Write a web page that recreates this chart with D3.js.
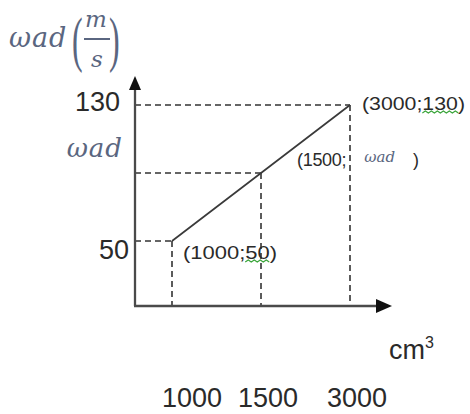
<!DOCTYPE html>
<html>
<head>
<meta charset="utf-8">
<script src="https://cdn.jsdelivr.net/npm/d3@7"></script>
<style>
  html, body { margin: 0; padding: 0; background: #fff; }
  svg { display: block; }
</style>
</head>
<body>
<svg id="chart" width="470" height="414"></svg>
<script>
// Volume (cm³) categories on the horizontal axis
const volumes = [1000, 1500, 3000];
// Angular speed values at each volume (middle one is the unknown ωad)
const speeds = [50, 90, 130];
// Labels written next to the vertical axis, one per speed value
const speedTickLabels = ["50", "ωad", "130"];
// Labels written on the horizontal axis, one per volume
const volumeTickLabels = ["1000", "1500", "3000"];
// Text of each point's coordinate label: [x part, y part]
const pointXText = ["1000", "1500", "3000"];
const pointYText = ["50", "ωad", "130"];

const svg = d3.select("#chart");
const INK = "#333";
const AXIS = "#4a4a4a";
const MATH = "#5a6680";
const SANS = "'Liberation Sans', Arial, sans-serif";
const SERIF = "'DejaVu Serif', 'Liberation Serif', serif";

const x = d3.scalePoint().domain(volumes).range([172, 350]);
const y = d3.scaleLinear().domain([50, 130]).range([241, 105]);

const originX = 135, originY = 306;
const xEnd = 392, yEnd = 76;

// Dashed guide lines from each point to both axes
const guides = svg.append("g")
  .attr("stroke", INK).attr("stroke-width", 1.6)
  .attr("stroke-dasharray", "6,4").attr("fill", "none");
volumes.forEach((v, i) => {
  guides.append("line")
    .attr("x1", originX).attr("x2", x(v))
    .attr("y1", y(speeds[i])).attr("y2", y(speeds[i]));
  guides.append("line")
    .attr("x1", x(v)).attr("x2", x(v))
    .attr("y1", y(speeds[i])).attr("y2", originY);
});

// The straight line through the points
const line = d3.line().x((d, i) => x(volumes[i])).y(d => y(d));
svg.append("path")
  .datum(speeds)
  .attr("d", line)
  .attr("fill", "none")
  .attr("stroke", "#3a3a3a")
  .attr("stroke-width", 1.7);

// Axes with arrowheads
const axes = svg.append("g");
axes.append("line")
  .attr("x1", originX).attr("y1", originY)
  .attr("x2", originX).attr("y2", yEnd + 10)
  .attr("stroke", AXIS).attr("stroke-width", 2.3);
axes.append("line")
  .attr("x1", originX - 1).attr("y1", originY)
  .attr("x2", xEnd - 12).attr("y2", originY)
  .attr("stroke", AXIS).attr("stroke-width", 2.3);
axes.append("path")
  .attr("d", `M${originX},${yEnd} L${originX - 6},${yEnd + 14} L${originX + 6},${yEnd + 14} Z`)
  .attr("fill", "#111");
axes.append("path")
  .attr("d", `M${xEnd},${originY} L${xEnd - 16},${originY - 7} L${xEnd - 16},${originY + 7} Z`)
  .attr("fill", "#111");

// Vertical axis value labels
const yLabelPlace = {
  "50":  { dx: -6, dy: 18, size: 27, font: SANS, color: "#2a2a2a", style: "normal", ls: 0 },
  "ωad": { dx: -12, dy: -16, size: 26, font: SERIF, color: MATH, style: "italic", ls: 1 },
  "130": { dx: -15, dy: 6, size: 27, font: SANS, color: "#2a2a2a", style: "normal", ls: 0 }
};
speedTickLabels.forEach((t, i) => {
  const p = yLabelPlace[t];
  svg.append("text")
    .attr("x", originX + p.dx)
    .attr("y", y(speeds[i]) + p.dy)
    .attr("text-anchor", "end")
    .attr("font-family", p.font)
    .attr("font-size", p.size)
    .attr("font-style", p.style)
    .attr("letter-spacing", p.ls)
    .attr("fill", p.color)
    .text(t);
});

// Horizontal axis value labels, in a row beneath the unit
const tickLabelX = d3.scaleOrdinal().domain(volumes).range([192, 268, 357]);
svg.append("g")
  .selectAll("text")
  .data(volumes)
  .join("text")
  .attr("x", d => tickLabelX(d))
  .attr("y", 407)
  .attr("text-anchor", "middle")
  .attr("font-family", SANS)
  .attr("font-size", 27)
  .attr("fill", "#2a2a2a")
  .text((d, i) => volumeTickLabels[i]);

// Unit of the horizontal axis
const unit = svg.append("text")
  .attr("x", 389).attr("y", 359)
  .attr("font-family", SANS).attr("font-size", 27).attr("fill", "#2a2a2a");
unit.append("tspan").text("cm");
unit.append("tspan").attr("font-size", 16).attr("dy", -11).text("3");

// Title of the vertical axis: ωad (m/s)
const title = svg.append("g").attr("fill", MATH);
title.append("text")
  .attr("x", 9).attr("y", 47)
  .attr("font-family", SERIF).attr("font-style", "italic").attr("font-size", 27)
  .attr("letter-spacing", 1)
  .text("ωad");
// Tall parentheses round the fraction, stretched vertically
[["(", 72], [")", 109]].forEach(([ch, px]) => {
  title.append("text")
    .attr("transform", `translate(${px},0) scale(1,1.9)`)
    .attr("x", 0).attr("y", 31.6)
    .attr("font-family", "'Liberation Serif', serif").attr("font-size", 32)
    .text(ch);
});
title.append("text")
  .attr("x", 96).attr("y", 27).attr("text-anchor", "middle")
  .attr("font-family", SERIF).attr("font-style", "italic").attr("font-size", 23)
  .text("m");
title.append("line")
  .attr("x1", 84).attr("x2", 110).attr("y1", 39).attr("y2", 39)
  .attr("stroke", MATH).attr("stroke-width", 2);
title.append("text")
  .attr("x", 97).attr("y", 67).attr("text-anchor", "middle")
  .attr("font-family", SERIF).attr("font-style", "italic").attr("font-size", 23)
  .text("s");

// Coordinate labels next to each point
const pointLabelPlace = [
  { dx: 11, dy: 18, width: 94 },
  { dx: 36, dy: -7, width: null },
  { dx: 12, dy: 5, width: 103 }
];
function squiggle(g, x0, x1, yy) {
  let d = `M${x0},${yy}`;
  let up = true;
  for (let xx = x0 + 3; xx <= x1; xx += 3) {
    d += ` L${xx},${yy + (up ? -2 : 0)}`;
    up = !up;
  }
  g.append("path").attr("d", d).attr("fill", "none")
    .attr("stroke", "#3aa53a").attr("stroke-width", 1.2);
}
volumes.forEach((v, i) => {
  const p = pointLabelPlace[i];
  const px = x(v) + p.dx, py = y(speeds[i]) + p.dy;
  if (pointYText[i] === "ωad") {
    const t = svg.append("text")
      .attr("x", px).attr("y", py)
      .attr("font-family", SANS).attr("font-size", 18)
      .attr("letter-spacing", -0.3).attr("fill", "#2a2a2a");
    t.append("tspan").text(`(${pointXText[i]};`);
    t.append("tspan").attr("dx", 18).attr("dy", -4)
      .attr("font-family", SERIF).attr("font-style", "italic")
      .attr("font-size", 15).attr("letter-spacing", 0).attr("fill", MATH)
      .text(pointYText[i]);
    t.append("tspan").attr("dx", 18).attr("dy", 4).text(")");
  } else {
    const label = `(${pointXText[i]};${pointYText[i]})`;
    const t = svg.append("text")
      .attr("x", px).attr("y", py)
      .attr("font-family", SANS).attr("font-size", 18)
      .attr("fill", "#2a2a2a")
      .attr("textLength", p.width)
      .attr("lengthAdjust", "spacingAndGlyphs")
      .text(label);
    const n = t.node();
    const start = label.indexOf(";") + 1;
    const a = n.getExtentOfChar(start);
    const b = n.getExtentOfChar(label.length - 1);
    squiggle(svg, a.x, b.x + 1, py + 3);
  }
});
</script>
</body>
</html>
